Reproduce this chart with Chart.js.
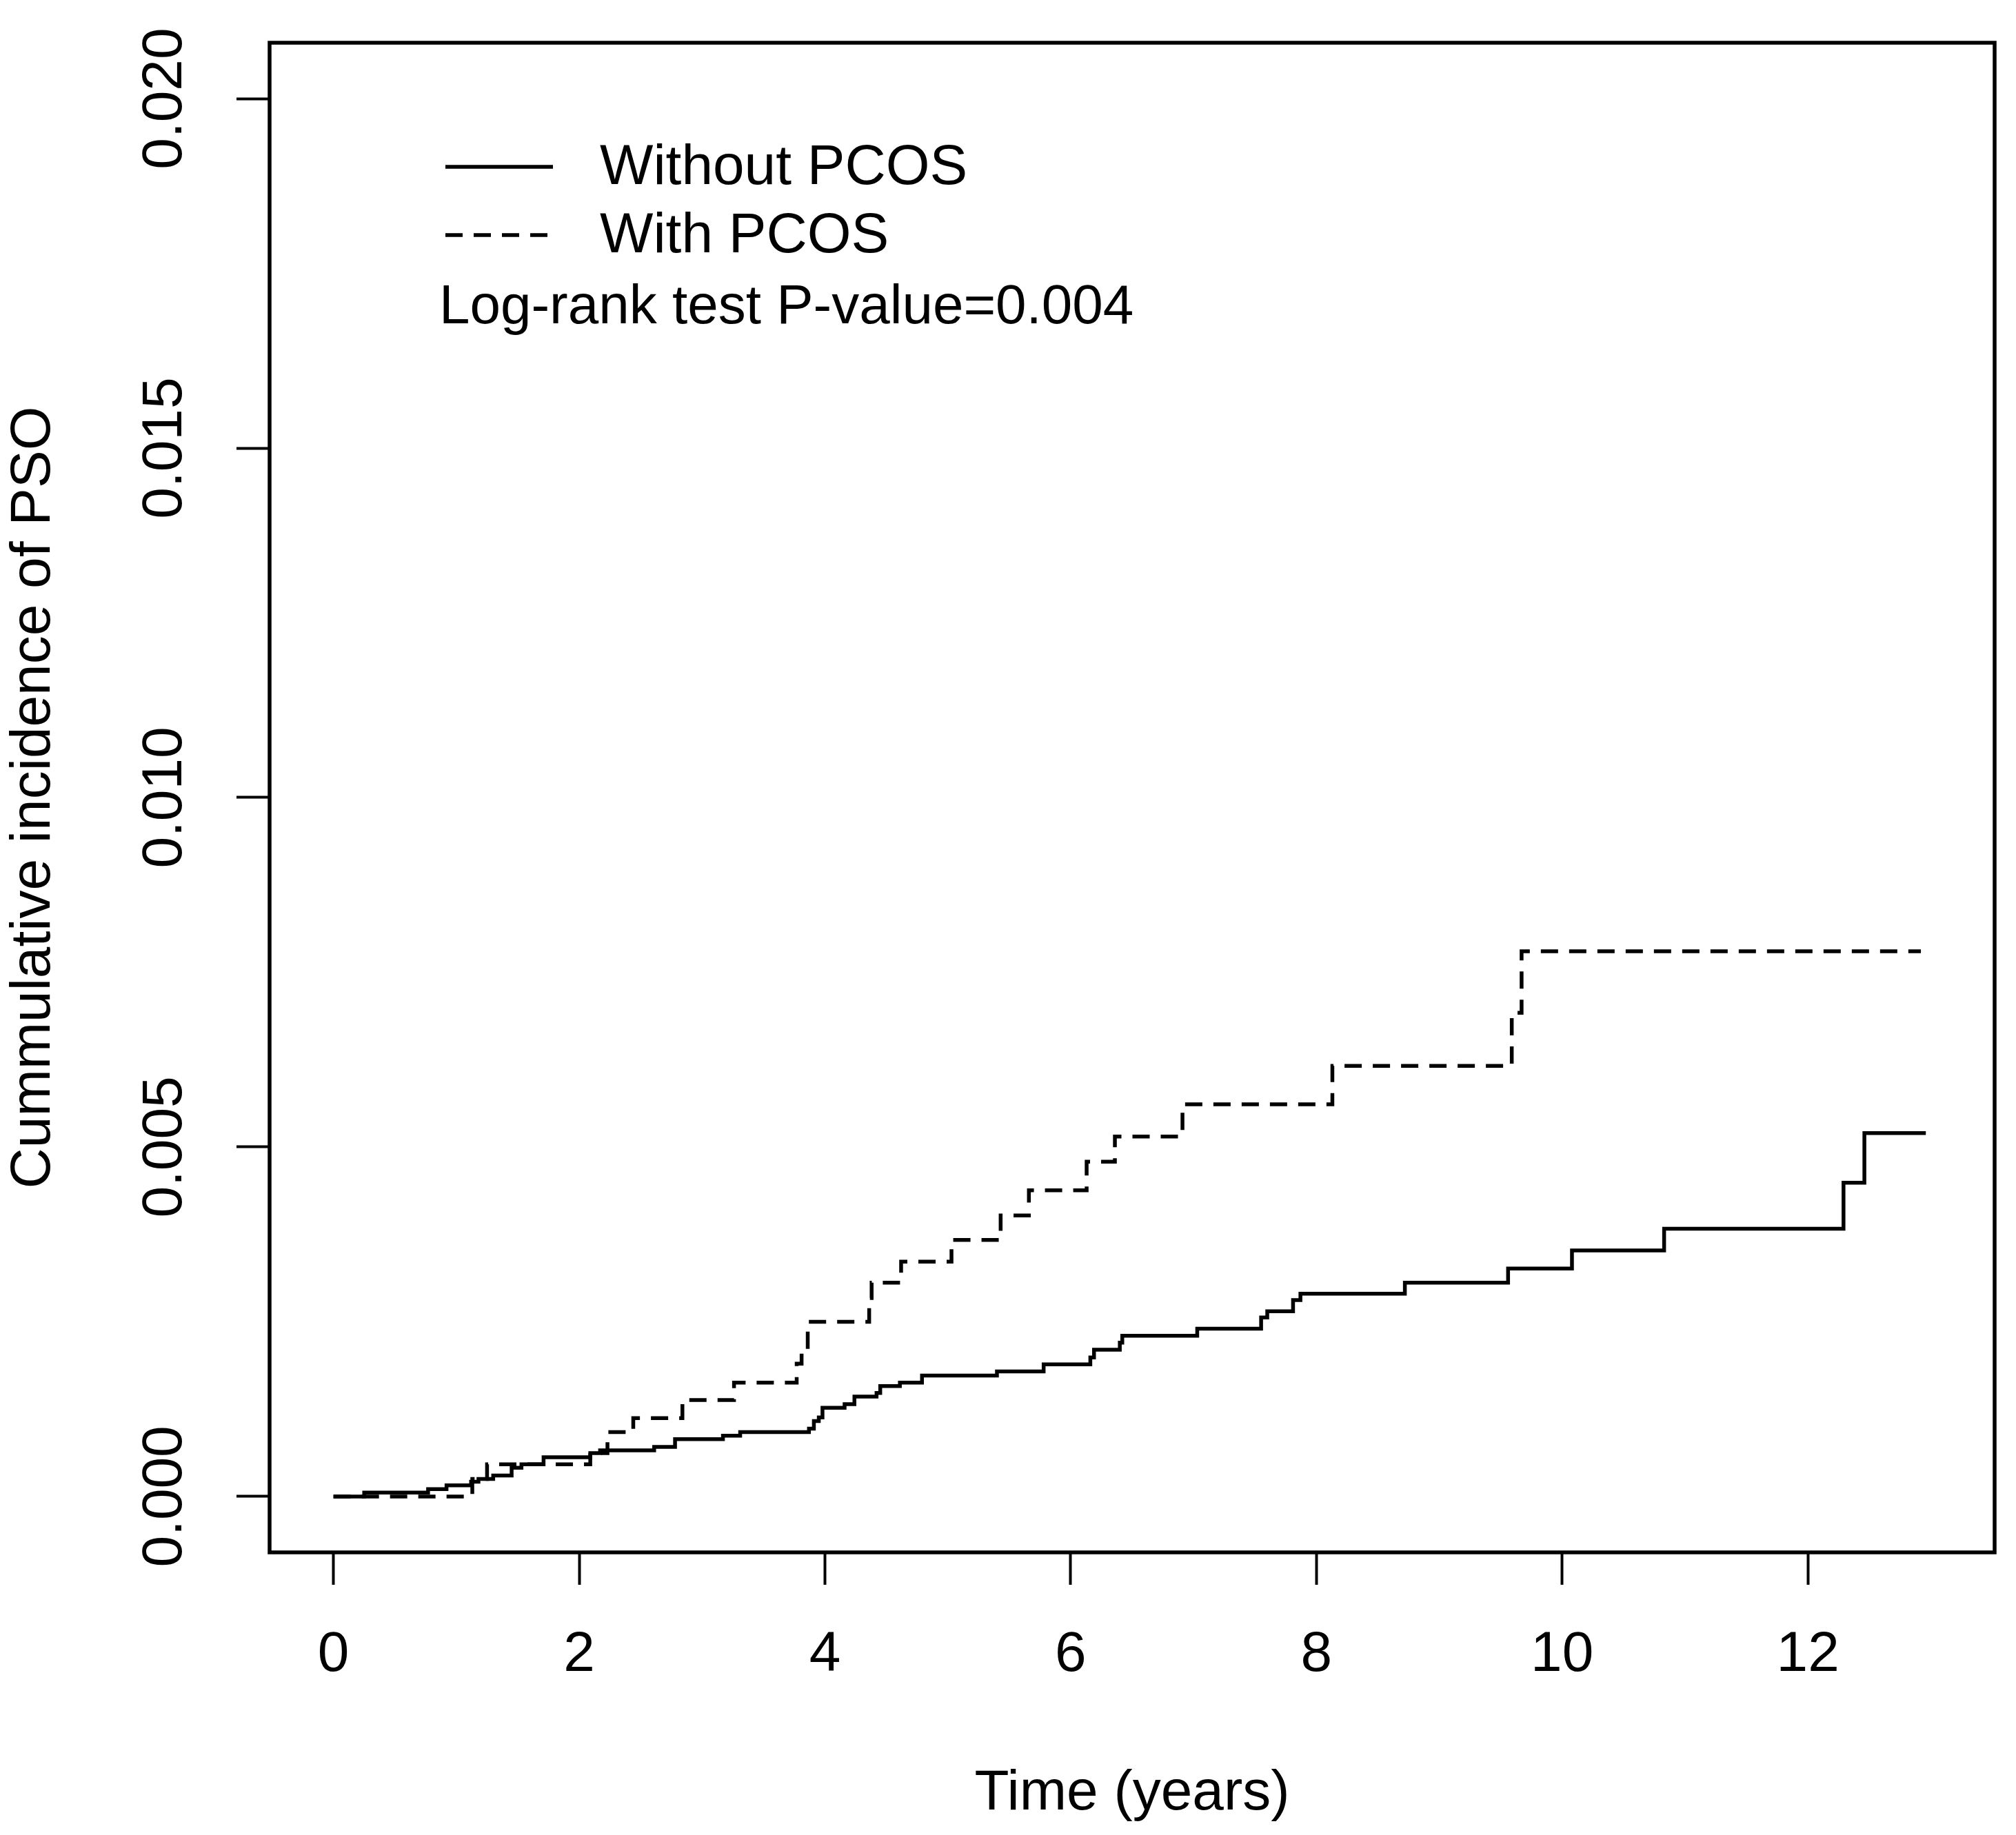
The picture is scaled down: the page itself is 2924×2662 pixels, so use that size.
<!DOCTYPE html>
<html>
<head>
<meta charset="utf-8">
<title>Cumulative incidence of PSO</title>
<script src="https://cdn.jsdelivr.net/npm/chart.js@4.4.1/dist/chart.umd.min.js"></script>
<style>
  html, body { margin: 0; padding: 0; background: #fff; }
  canvas { display: block; }
</style>
</head>
<body>
<canvas id="kmChart" width="2924" height="2662"></canvas>
<script>
// step times (years) and cumulative incidence after each step
const withoutTime = [0, 0.25, 0.77, 0.92, 1.12, 1.18, 1.30, 1.45, 1.53, 1.71,
    2.09, 2.17, 2.61, 2.78, 3.17, 3.31, 3.87, 3.91, 3.95, 3.98,
    4.16, 4.24, 4.42, 4.45, 4.61, 4.79, 5.40, 5.78, 6.16, 6.19,
    6.40, 6.42, 7.03, 7.55, 7.60, 7.81, 7.87, 8.72, 9.56, 10.08,
    10.83, 12.29, 12.46, 12.96];
const withoutInc = [0, 0.000056, 0.000105, 0.00016, 0.00021, 0.00025, 0.0003, 0.00041, 0.00046, 0.00056,
    0.00062, 0.00066, 0.00071, 0.00082, 0.00087, 0.00092, 0.00097, 0.00108, 0.00113, 0.00127,
    0.00132, 0.00143, 0.00148, 0.00158, 0.00163, 0.00173, 0.00179, 0.00189, 0.00199, 0.0021,
    0.0022, 0.0023, 0.0024, 0.00256, 0.00265, 0.00281, 0.0029, 0.00306, 0.00326, 0.00352,
    0.00383, 0.00449, 0.0052, 0.0052];

const withTime = [0, 1.13, 1.25, 2.09, 2.23, 2.44, 2.84, 3.26, 3.77, 3.81,
    3.86, 4.36, 4.38, 4.62, 5.03, 5.43, 5.66, 6.13, 6.36, 6.91,
    8.13, 9.59, 9.67, 12.92];
const withInc = [0, 0.00025, 0.00046, 0.00062, 0.00092, 0.00112, 0.00138, 0.00163, 0.0019, 0.0021,
    0.0025, 0.00284, 0.00306, 0.00336, 0.00367, 0.00402, 0.00438, 0.00479, 0.00515, 0.00561,
    0.00616, 0.00692, 0.0078, 0.0078];

const xTicks = [0, 2, 4, 6, 8, 10, 12];
const yTicks = [0, 0.005, 0.01, 0.015, 0.02];
const yTickLabels = ['0.000', '0.005', '0.010', '0.015', '0.020'];

const seriesNames = ['Without PCOS', 'With PCOS'];
const pValueText = 'Log-rank test P-value=0.004';

const FONT = "'Liberation Sans', Arial, sans-serif";
const dashPattern = [25, 16];

function toPoints(xs, ys) {
    return xs.map((x, i) => ({ x: x, y: ys[i] }));
}

// box around the plot region, like R's bty="o"
const boxPlugin = {
    id: 'box',
    afterDatasetsDraw(chart) {
        const a = chart.chartArea;
        const ctx = chart.ctx;
        ctx.save();
        ctx.strokeStyle = '#000';
        ctx.lineWidth = 5.5;
        ctx.strokeRect(a.left, a.top, a.right - a.left, a.bottom - a.top);
        ctx.restore();
    }
};

// legend in the top-left of the plot, plus the p-value line
const legendPlugin = {
    id: 'rLegend',
    afterDraw(chart) {
        const ctx = chart.ctx;
        ctx.save();
        ctx.strokeStyle = '#000';
        ctx.fillStyle = '#000';
        ctx.lineWidth = 5.5;
        ctx.lineCap = 'butt';
        ctx.font = '82px ' + FONT;
        ctx.textBaseline = 'middle';
        ctx.textAlign = 'left';

        const rows = [242, 341];
        chart.data.datasets.forEach((ds, i) => {
            ctx.setLineDash(ds.borderDash || []);
            ctx.beginPath();
            ctx.moveTo(646, rows[i]);
            ctx.lineTo(802, rows[i]);
            ctx.stroke();
            ctx.setLineDash([]);
            ctx.fillText(ds.label, 870, rows[i] + 2);
        });
        ctx.font = '80px ' + FONT;
        ctx.fillText(pValueText, 637, 447);
        ctx.restore();
    }
};

const ctx = document.getElementById('kmChart').getContext('2d');
const kmChart = new Chart(ctx, {
    type: 'line',
    data: {
        datasets: [
            {
                label: seriesNames[0],
                data: toPoints(withoutTime, withoutInc),
                borderColor: '#000',
                borderWidth: 5.5,
                stepped: 'before',
                pointRadius: 0,
                fill: false
            },
            {
                label: seriesNames[1],
                data: toPoints(withTime, withInc),
                borderColor: '#000',
                borderWidth: 5.5,
                borderDash: dashPattern,
                stepped: 'before',
                pointRadius: 0,
                fill: false
            }
        ]
    },
    options: {
        responsive: false,
        devicePixelRatio: 1,
        animation: false,
        layout: { padding: { top: 62, right: 31, left: 0, bottom: 0 } },
        plugins: {
            legend: { display: false },
            tooltip: { enabled: false }
        },
        scales: {
            x: {
                type: 'linear',
                min: -0.52,
                max: 13.52,
                afterBuildTicks(scale) {
                    scale.ticks = xTicks.map(v => ({ value: v }));
                },
                afterFit(scale) { scale.height = 410; },
                border: { display: false },
                grid: {
                    drawOnChartArea: false,
                    drawTicks: true,
                    tickLength: 47,
                    tickWidth: 4,
                    tickColor: '#000'
                },
                ticks: {
                    color: '#000',
                    padding: 53,
                    maxRotation: 0,
                    font: { family: FONT, size: 82 },
                    callback: v => String(v)
                },
                title: {
                    display: true,
                    text: 'Time (years)',
                    color: '#000',
                    font: { family: FONT, size: 82 },
                    padding: { top: 0, bottom: 10 }
                }
            },
            y: {
                type: 'linear',
                min: -0.0008,
                max: 0.0208,
                afterBuildTicks(scale) {
                    scale.ticks = yTicks.map(v => ({ value: v }));
                },
                afterFit(scale) { scale.width = 391; },
                border: { display: false },
                grid: {
                    drawOnChartArea: false,
                    drawTicks: true,
                    tickLength: 48,
                    tickWidth: 4,
                    tickColor: '#000'
                },
                ticks: {
                    color: '#000',
                    padding: 0,
                    minRotation: 90,
                    maxRotation: 90,
                    crossAlign: 'center',
                    font: { family: FONT, size: 82 },
                    callback: (v, i) => yTickLabels[i]
                },
                title: {
                    display: true,
                    text: 'Cummulative incidence of PSO',
                    color: '#000',
                    font: { family: FONT, size: 82 },
                    padding: { top: 0, bottom: 0 }
                }
            }
        }
    },
    plugins: [boxPlugin, legendPlugin]
});
</script>
</body>
</html>
